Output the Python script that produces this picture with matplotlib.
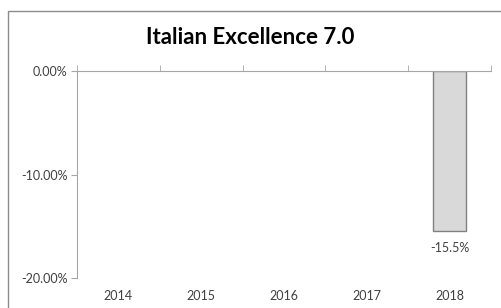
import matplotlib
matplotlib.use("Agg")
import matplotlib.pyplot as plt
import numpy as np
from matplotlib.patches import Rectangle
from matplotlib.ticker import FuncFormatter

plt.rcParams["font.family"] = ["Lato", "DejaVu Sans"]

years = ["2014", "2015", "2016", "2017", "2018"]
values = [np.nan, np.nan, np.nan, np.nan, -15.5]
bar_labels = ["", "", "", "", "-15.5%"]
y_ticks = [0, -10, -20]

fig = plt.figure(figsize=(5.01, 3.08), dpi=100)
ax = fig.add_axes([77 / 501, 1 - 278 / 308, (491 - 77) / 501, (278 - 71) / 308])

x = np.arange(len(years))
vals = np.array(values, dtype=float)
has = ~np.isnan(vals)
ax.bar(x[has], vals[has], width=0.4, color="#d9d9d9", edgecolor="#808080", linewidth=1.0, zorder=2)
for xi, v, lab in zip(x, vals, bar_labels):
    if lab:
        ax.text(xi, v - 1.0, lab, ha="center", va="top", fontsize=9, color="#404040")

ax.set_xlim(-0.5, len(years) - 0.5)
ax.set_ylim(-20, 0)
ax.set_yticks(y_ticks)
ax.yaxis.set_major_formatter(FuncFormatter(lambda v, p: f"{v:.2f}%"))
ax.tick_params(axis="y", length=4, color="#a6a6a6", labelsize=9, labelcolor="#404040", pad=3)

ax.set_xticks(x)
ax.set_xticklabels(years)
ax.set_xticks(np.arange(-0.5, len(years)), minor=True)
ax.tick_params(axis="x", which="major", length=0, labelsize=9, labelcolor="#404040", pad=9)
ax.tick_params(axis="x", which="minor", top=True, bottom=False, direction="out", length=4, color="#a6a6a6")

for s in ["right", "bottom"]:
    ax.spines[s].set_visible(False)
ax.spines["left"].set_color("#a6a6a6")
ax.spines["top"].set_color("#a6a6a6")

fig.text(0.5, 1 - 38 / 308, "Italian Excellence 7.0", ha="center", va="center",
         fontsize=16, fontweight="bold", color="black")

fig.add_artist(Rectangle((8 / 501, -0.1), 1.2, 1.1 - 11 / 308, transform=fig.transFigure,
                         fill=False, edgecolor="#8c8c8c", linewidth=1.0))

fig.savefig("out.png", dpi=100)
